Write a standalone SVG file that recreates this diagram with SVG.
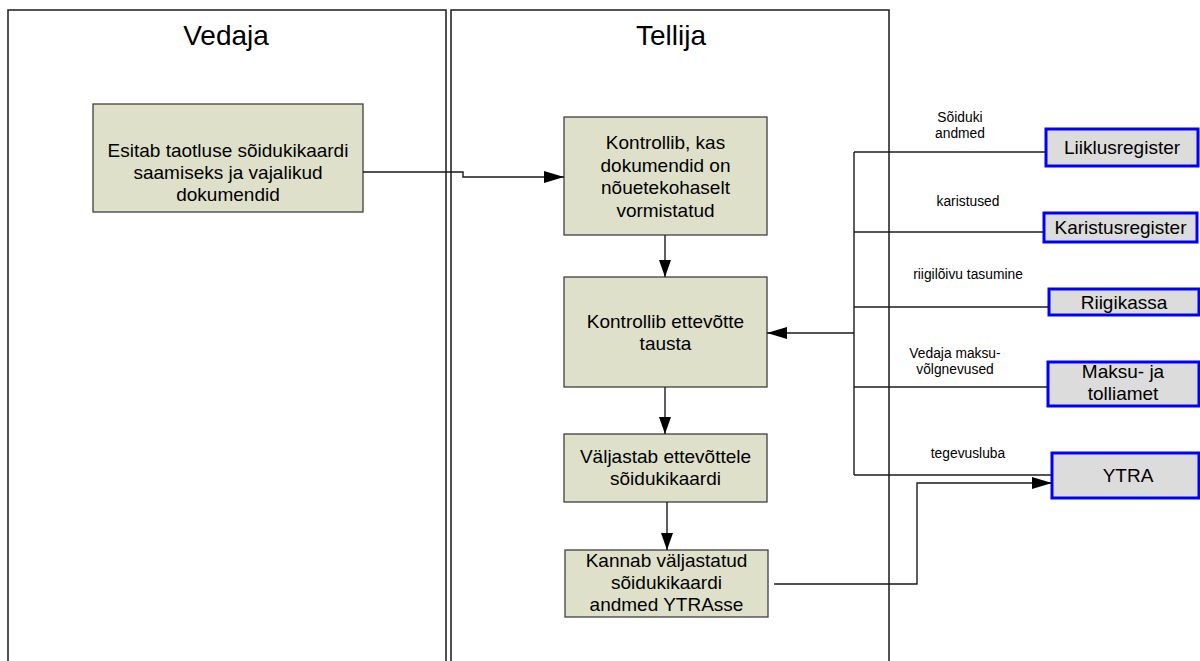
<svg xmlns="http://www.w3.org/2000/svg" width="1200" height="661" viewBox="0 0 1200 661">
  <style>
    text { font-family: "Liberation Sans", Arial, sans-serif; fill: #000; }
    .lane { fill: #fff; stroke: #1a1a1a; stroke-width: 1.5; }
    .lane-title { font-size: 28px; text-anchor: middle; }
    .step rect { fill: #dee0ca; stroke: #404040; stroke-width: 1.3; }
    .step text { font-size: 19px; text-anchor: middle; }
    .reg rect { fill: #dcdcdc; stroke: #0000ff; stroke-width: 3; }
    .reg text { font-size: 19px; text-anchor: middle; }
    .conn path { fill: none; stroke: #1a1a1a; stroke-width: 1.4; }
    .lbl { font-size: 13.8px; text-anchor: middle; }
  </style>
  <defs>
    <marker id="arrow" viewBox="0 0 20 12" refX="20" refY="6" markerWidth="20" markerHeight="12" markerUnits="userSpaceOnUse" orient="auto">
      <path d="M0,0 L20,6 L0,12 z" fill="#000"/>
    </marker>
    <marker id="arrowV" viewBox="0 0 17 12" refX="17" refY="6" markerWidth="17" markerHeight="12" markerUnits="userSpaceOnUse" orient="auto">
      <path d="M0,0 L17,6 L0,12 z" fill="#000"/>
    </marker>
  </defs>

  <rect width="1200" height="661" fill="#fff"/>

  <!-- swimlanes -->
  <g id="lane-vedaja">
    <rect class="lane" x="8" y="10" width="438" height="680"/>
    <text class="lane-title" x="226" y="45">Vedaja</text>
  </g>
  <g id="lane-tellija">
    <rect class="lane" x="451" y="10" width="438" height="680"/>
    <text class="lane-title" x="671" y="45">Tellija</text>
  </g>

  <!-- process steps -->
  <g id="step-esitab" class="step">
    <rect x="93" y="104" width="270" height="108"/>
    <text x="228" y="157">Esitab taotluse sõidukikaardi</text>
    <text x="228" y="179">saamiseks ja vajalikud</text>
    <text x="228" y="201">dokumendid</text>
  </g>
  <g id="step-kontroll-dok" class="step">
    <rect x="564" y="117" width="203" height="118"/>
    <text x="665.5" y="149">Kontrollib, kas</text>
    <text x="665.5" y="172">dokumendid on</text>
    <text x="665.5" y="194">nõuetekohaselt</text>
    <text x="665.5" y="217">vormistatud</text>
  </g>
  <g id="step-kontroll-taust" class="step">
    <rect x="564" y="277" width="203" height="110"/>
    <text x="665.5" y="328">Kontrollib ettevõtte</text>
    <text x="665.5" y="350">tausta</text>
  </g>
  <g id="step-valjastab" class="step">
    <rect x="564" y="434" width="203" height="68"/>
    <text x="665.5" y="463">Väljastab ettevõttele</text>
    <text x="665.5" y="485">sõidukikaardi</text>
  </g>
  <g id="step-kannab" class="step">
    <rect x="565" y="550" width="203" height="67"/>
    <text x="666.5" y="567">Kannab väljastatud</text>
    <text x="666.5" y="589">sõidukikaardi</text>
    <text x="666.5" y="611">andmed YTRAsse</text>
  </g>

  <!-- external registers -->
  <g id="reg-liiklus" class="reg">
    <rect x="1046" y="129" width="152" height="37"/>
    <text x="1122" y="154">Liiklusregister</text>
  </g>
  <g id="reg-karistus" class="reg">
    <rect x="1044" y="213" width="153" height="29"/>
    <text x="1120.5" y="234">Karistusregister</text>
  </g>
  <g id="reg-riigikassa" class="reg">
    <rect x="1049" y="289" width="150" height="26"/>
    <text x="1124" y="309">Riigikassa</text>
  </g>
  <g id="reg-maksu" class="reg">
    <rect x="1048" y="362" width="151" height="44"/>
    <text x="1123" y="378">Maksu- ja</text>
    <text x="1123" y="400">tolliamet</text>
  </g>
  <g id="reg-ytra" class="reg">
    <rect x="1052" y="453" width="147" height="45"/>
    <text x="1128" y="482">YTRA</text>
  </g>

  <!-- connectors -->
  <g id="connectors" class="conn">
    <path d="M363,172 H463 V177 H564" marker-end="url(#arrow)"/>
    <path d="M665,235 V277" marker-end="url(#arrowV)"/>
    <path d="M665,387 V434" marker-end="url(#arrowV)"/>
    <path d="M667,502 V550" marker-end="url(#arrowV)"/>
    <path d="M854,152 V475"/>
    <path d="M854,152 H1046"/>
    <path d="M854,232 H1044"/>
    <path d="M854,307 H1049"/>
    <path d="M854,387 H1048"/>
    <path d="M854,475 H1052"/>
    <path d="M854,333 H767" marker-end="url(#arrow)"/>
    <path d="M774,584 H917 V483 H1052" marker-end="url(#arrow)"/>
  </g>

  <!-- connector labels -->
  <g id="labels">
    <text class="lbl" x="960" y="122">Sõiduki</text>
    <text class="lbl" x="960" y="138">andmed</text>
    <text class="lbl" x="968" y="206">karistused</text>
    <text class="lbl" x="968" y="279">riigilõivu tasumine</text>
    <text class="lbl" x="955" y="358">Vedaja maksu-</text>
    <text class="lbl" x="955" y="374">võlgnevused</text>
    <text class="lbl" x="968" y="458">tegevusluba</text>
  </g>
</svg>
